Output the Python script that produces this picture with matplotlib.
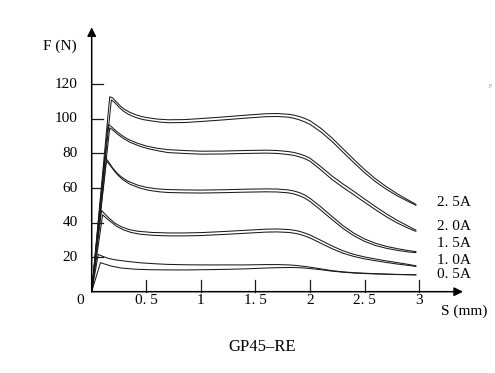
import matplotlib
matplotlib.use("Agg")
import matplotlib.pyplot as plt

# force curves F (N) vs stroke S (mm); every current is drawn as a double line
currents = ["2. 5A", "2. 0A", "1. 5A", "1. 0A", "0. 5A"]
label_f = [51.6, 37.6, 28.0, 18.3, 9.7]

# rising part + peak of each line (own s values)
s25_head_up = [0, 0.165, 0.19, 0.22, 0.26, 0.30, 0.35, 0.40, 0.45, 0.50, 0.60]
f25_head_up = [0, 112.8, 112.2, 110.3, 107.6, 105.5, 103.8, 102.5, 101.5, 100.8, 99.9]
s25_head_lo = [0, 0.18, 0.21, 0.25, 0.29, 0.33, 0.38, 0.43, 0.48, 0.54, 0.62]
f25_head_lo = [0, 111.0, 109.5, 106.8, 104.5, 102.9, 101.4, 100.3, 99.5, 98.9, 98.2]

s20_head_up = [0, 0.15, 0.18, 0.22, 0.27, 0.33, 0.42, 0.50, 0.60]
f20_head_up = [0, 96.9, 95.5, 93.2, 90.7, 88.3, 85.9, 84.3, 83.0]
s20_head_lo = [0, 0.165, 0.20, 0.24, 0.29, 0.35, 0.44, 0.52, 0.62]
f20_head_lo = [0, 94.8, 93.2, 91.0, 88.7, 86.5, 84.2, 82.7, 81.4]

s15_head_up = [0, 0.12, 0.15, 0.19, 0.23, 0.27, 0.33, 0.42, 0.50, 0.60]
f15_head_up = [0, 78.0, 75.5, 71.8, 68.8, 66.5, 64.0, 61.7, 60.4, 59.5]
s15_head_lo = [0, 0.135, 0.17, 0.21, 0.25, 0.29, 0.35, 0.44, 0.52, 0.62]
f15_head_lo = [0, 75.8, 73.0, 69.6, 66.8, 64.6, 62.2, 60.0, 58.7, 57.8]

s10_head_up = [0, 0.09, 0.12, 0.16, 0.21, 0.27, 0.34, 0.42, 0.55]
f10_head_up = [0, 47.0, 45.0, 42.5, 39.8, 37.6, 36.0, 35.0, 34.3]
s10_head_lo = [0, 0.10, 0.135, 0.18, 0.23, 0.29, 0.36, 0.44, 0.57]
f10_head_lo = [0, 44.5, 42.5, 40.2, 37.8, 35.8, 34.3, 33.3, 32.6]

s05_head_up = [0, 0.06, 0.10, 0.15, 0.22, 0.33, 0.45, 0.60]
f05_head_up = [0, 21.6, 20.5, 19.3, 18.4, 17.5, 16.7, 16.1]
s05_head_lo = [0, 0.08, 0.12, 0.18, 0.27, 0.40, 0.55]
f05_head_lo = [0, 16.8, 16.0, 14.8, 13.7, 13.0, 12.7]

# plateau + fall, read on a shared stroke grid
s_body = [0.7, 0.85, 1.0, 1.2, 1.4, 1.6, 1.7, 1.8, 1.85, 1.9, 1.95, 2.0,
          2.1, 2.2, 2.3, 2.4, 2.5, 2.6, 2.7, 2.8, 2.9, 2.97]
f25_body_up = [99.5, 99.6, 100.2, 101.1, 102.1, 103.0, 103.1, 102.7, 102.2, 101.4, 100.3, 98.9,
               94.5, 89.0, 82.8, 76.6, 70.6, 65.3, 60.7, 56.6, 53.0, 50.5]
f25_body_lo = [97.8, 97.9, 98.5, 99.4, 100.4, 101.3, 101.4, 101.0, 100.4, 99.5, 98.3, 96.8,
               92.4, 87.0, 80.8, 74.7, 68.8, 63.6, 59.2, 55.4, 52.2, 50.0]
f20_body_up = [82.2, 81.7, 81.3, 81.4, 81.7, 81.9, 81.7, 81.1, 80.6, 79.8, 78.7, 77.2,
               72.3, 67.0, 62.4, 58.1, 53.6, 49.2, 45.0, 41.2, 37.9, 35.6]
f20_body_lo = [80.5, 80.0, 79.6, 79.7, 80.0, 80.2, 80.0, 79.4, 78.9, 78.1, 77.0, 75.5,
               70.4, 65.0, 60.4, 56.1, 51.7, 47.4, 43.3, 39.7, 36.7, 34.9]
f15_body_up = [59.1, 58.9, 58.8, 59.0, 59.3, 59.5, 59.4, 58.9, 58.3, 57.4, 56.0, 54.0,
               49.0, 43.6, 38.3, 33.9, 30.5, 28.0, 26.2, 24.9, 23.8, 23.2]
f15_body_lo = [57.4, 57.2, 57.1, 57.3, 57.6, 57.8, 57.7, 57.2, 56.6, 55.6, 54.2, 52.2,
               47.1, 41.8, 36.7, 32.4, 29.1, 26.7, 25.1, 23.9, 23.0, 22.6]
f10_body_up = [34.0, 34.0, 34.2, 34.8, 35.5, 36.2, 36.3, 36.0, 35.6, 35.0, 34.0, 32.8,
               29.7, 26.5, 23.7, 21.6, 20.1, 18.9, 17.8, 16.8, 15.8, 15.0]
f10_body_lo = [32.3, 32.3, 32.5, 33.1, 33.8, 34.5, 34.6, 34.3, 33.9, 33.3, 32.3, 31.1,
               28.0, 24.9, 22.3, 20.4, 19.0, 17.9, 16.9, 16.0, 15.2, 14.6]
f05_body_up = [15.8, 15.6, 15.5, 15.5, 15.5, 15.7, 15.7, 15.5, 15.3, 15.0, 14.6, 14.2,
               13.2, 12.2, 11.5, 11.0, 10.7, 10.4, 10.2, 10.0, 9.9, 9.8]
f05_body_lo = [12.6, 12.6, 12.7, 12.9, 13.2, 13.7, 13.9, 14.0, 14.0, 13.9, 13.7, 13.4,
               12.7, 11.9, 11.3, 10.8, 10.5, 10.3, 10.1, 9.9, 9.8, 9.7]

x_ticks = [0.5, 1, 1.5, 2, 2.5, 3]
x_labels = ["0. 5", "1", "1. 5", "2", "2. 5", "3"]
y_ticks = [20, 40, 60, 80, 100, 120]
y_labels = ["20", "40", "60", "80", "100", "120"]

lines = [
    (s25_head_up + s_body, f25_head_up + f25_body_up),
    (s25_head_lo + s_body, f25_head_lo + f25_body_lo),
    (s20_head_up + s_body, f20_head_up + f20_body_up),
    (s20_head_lo + s_body, f20_head_lo + f20_body_lo),
    (s15_head_up + s_body, f15_head_up + f15_body_up),
    (s15_head_lo + s_body, f15_head_lo + f15_body_lo),
    (s10_head_up + s_body, f10_head_up + f10_body_up),
    (s10_head_lo + s_body, f10_head_lo + f10_body_lo),
    (s05_head_up + s_body, f05_head_up + f05_body_up),
    (s05_head_lo + s_body, f05_head_lo + f05_body_lo),
]

plt.rcParams["font.family"] = ["Liberation Serif", "DejaVu Serif"]
fig = plt.figure(figsize=(4.95, 3.73), dpi=100)
ax = fig.add_axes([0, 0, 1, 1])
ax.set_xlim(-0.8397, 3.6932)
ax.set_ylim(-47.05, 168.81)
ax.axis("off")

ink = "#1a1a1a"
for s, f in lines:
    ax.plot(s, f, color=ink, lw=0.75, solid_joinstyle="round", solid_capstyle="round")

# axes with arrow heads
arrow = dict(arrowstyle="-|>", lw=1.1, color="black", mutation_scale=13, shrinkA=0, shrinkB=0)
ax.annotate("", xy=(0, 153), xytext=(0, 0), arrowprops=arrow)
ax.annotate("", xy=(3.4, 0), xytext=(0, 0), arrowprops=arrow)

for x, lab in zip(x_ticks, x_labels):
    ax.plot([x, x], [0, 6.5], color=ink, lw=0.9)
    ax.text(x, -5, lab, ha="center", va="center", fontsize=11)
for y, lab in zip(y_ticks, y_labels):
    ax.plot([0, 0.1], [y, y], color=ink, lw=0.9)
    ax.text(-0.13, y, lab, ha="right", va="center", fontsize=11)
ax.text(-0.107, -5, "0", ha="center", va="center", fontsize=11)

for lab, f in zip(currents, label_f):
    ax.text(3.16, f, lab, ha="left", va="center", fontsize=11)

ax.text(-0.293, 142.2, "F (N)", ha="center", va="center", fontsize=11)
ax.text(3.41, -11.2, "S (mm)", ha="center", va="center", fontsize=11)
ax.text(1.56, -32, "GP45\u2013RE", ha="center", va="center", fontsize=12)
ax.text(3.65, 118.5, "F", ha="center", va="center", fontsize=4, color="#888888")

fig.savefig("out.png", dpi=100)
